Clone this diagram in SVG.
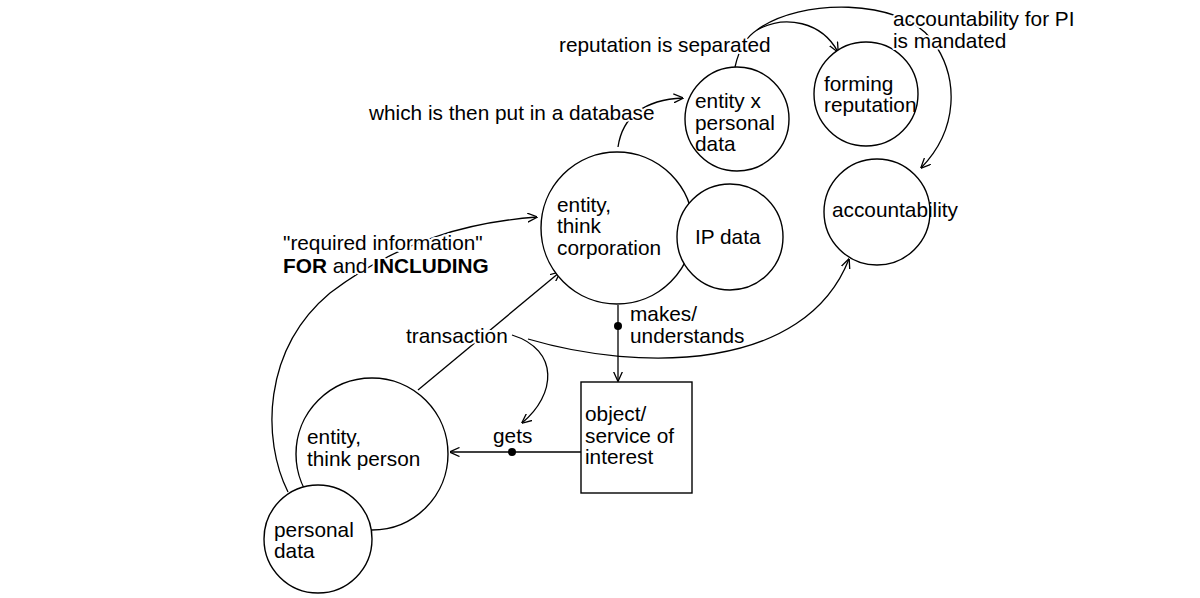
<svg xmlns="http://www.w3.org/2000/svg" width="1200" height="598" viewBox="0 0 1200 598">
<defs>
<style>
.n{fill:#fff;stroke:#000;stroke-width:1.4}
.c{fill:none;stroke:#000;stroke-width:1.3}
text{font-family:"Liberation Sans",Arial,sans-serif;font-size:20.8px;fill:#000}
.h{stroke:#fff;stroke-width:4;paint-order:stroke;stroke-linejoin:round}
</style>
<marker id="a" viewBox="0 0 10 10" refX="9.5" refY="5" markerWidth="10" markerHeight="10" markerUnits="userSpaceOnUse" orient="auto">
<path d="M0,0.5 L10,5 L0,9.5" fill="none" stroke="#000" stroke-width="1.3"/>
</marker>
</defs>
<rect width="1200" height="598" fill="#fff"/>
<g id="connectors">
<path class="c" d="M618 305 L618 381" marker-end="url(#a)"/>
<circle cx="618" cy="326" r="4"/>
<path class="c" d="M581 452 L450 452" marker-end="url(#a)"/>
<circle cx="512" cy="452" r="4"/>
<path class="c" d="M418 390 L560 272" marker-end="url(#a)"/>
<path class="c" d="M512 335 C560 350 556 395 522 423" marker-end="url(#a)"/>
<path class="c" d="M528 339 C640 372 805 372 849 259" marker-end="url(#a)"/>
<path class="c" d="M288 492 C262 440 262 350 330 293 C400 240 470 222 537 217" marker-end="url(#a)"/>
<path class="c" d="M618 147 C622 120 640 100 683 98" marker-end="url(#a)"/>
<path class="c" d="M735 67 C740 45 748 36 757 30"/>
<path class="c" d="M757 30 C785 14 822 22 838 52" marker-end="url(#a)"/>
<path class="c" d="M757 30 C800 -2 900 -2 932 40 C960 78 958 130 921 168" marker-end="url(#a)"/>
</g>
<g id="corp">
<circle class="n" cx="617" cy="228" r="76"/>
<text x="557" y="212">entity,</text>
<text x="557" y="233">think</text>
<text x="557" y="255">corporation</text>
</g>
<g id="ipdata">
<circle class="n" cx="730" cy="237" r="53"/>
<text x="695" y="244">IP data</text>
</g>
<g id="entityx">
<circle class="n" cx="737" cy="119" r="52"/>
<text x="695" y="108">entity x</text>
<text x="695" y="130">personal</text>
<text x="695" y="151">data</text>
</g>
<g id="forming">
<circle class="n" cx="866" cy="94" r="52"/>
<text x="824" y="91">forming</text>
<text x="824" y="112">reputation</text>
</g>
<g id="accountability">
<circle class="n" cx="877" cy="212" r="53"/>
<text x="832" y="217">accountability</text>
</g>
<g id="person">
<circle class="n" cx="372" cy="454" r="76"/>
<text x="307" y="444">entity,</text>
<text x="307" y="466">think person</text>
</g>
<g id="personaldata">
<circle class="n" cx="318" cy="539" r="54"/>
<text x="274" y="537">personal</text>
<text x="274" y="558">data</text>
</g>
<g id="object">
<rect class="n" x="581" y="382" width="111" height="111"/>
<text x="585" y="421">object/</text>
<text x="585" y="443">service of</text>
<text x="585" y="464">interest</text>
</g>
<g id="labels">
<text class="h" x="369" y="120">which is then put in a database</text>
<text class="h" x="559" y="52">reputation is separated</text>
<text class="h" x="893" y="26">accountability for PI</text>
<text class="h" x="893" y="48">is mandated</text>
<text class="h" x="283" y="250">"required information"</text>
<text class="h" x="283" y="273"><tspan font-weight="bold">FOR</tspan> and <tspan font-weight="bold">INCLUDING</tspan></text>
<text class="h" x="406" y="343">transaction</text>
<text class="h" x="630" y="321">makes/</text>
<text class="h" x="630" y="343">understands</text>
<text class="h" x="493" y="443">gets</text>
</g>
</svg>
